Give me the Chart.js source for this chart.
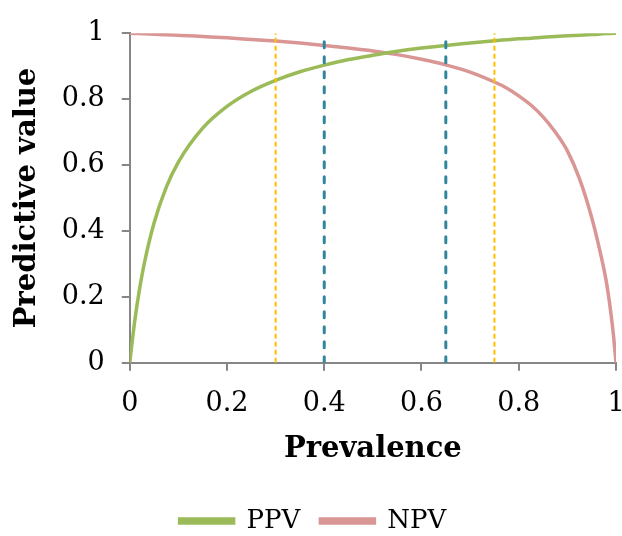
<!DOCTYPE html>
<html>
<head>
<meta charset="utf-8">
<script src="https://cdn.jsdelivr.net/npm/chart.js@4"></script>
<style>
  html, body { margin: 0; padding: 0; background: #ffffff; }
  #wrap { width: 622px; height: 536px; }
</style>
</head>
<body>
<div id="wrap"><canvas id="c" width="622" height="536"></canvas></div>
<script>
const prevalence = [0, 0.01, 0.02, 0.03, 0.05, 0.075, 0.1, 0.15, 0.2, 0.25, 0.3, 0.35, 0.4, 0.45, 0.5, 0.55, 0.6, 0.65, 0.7, 0.75, 0.775, 0.8, 0.825, 0.85, 0.875, 0.9, 0.925, 0.95, 0.965, 0.98, 0.99, 0.995, 1];
const ppv = [0, 0.124, 0.222, 0.302, 0.424, 0.532, 0.609, 0.712, 0.778, 0.824, 0.857, 0.883, 0.903, 0.920, 0.933, 0.945, 0.955, 0.963, 0.970, 0.977, 0.980, 0.983, 0.985, 0.988, 0.990, 0.992, 0.994, 0.996, 0.997, 0.999, 0.999, 1, 1];
const npv = [1, 0.999, 0.999, 0.998, 0.997, 0.995, 0.994, 0.990, 0.986, 0.981, 0.976, 0.970, 0.963, 0.955, 0.946, 0.935, 0.921, 0.904, 0.882, 0.852, 0.834, 0.810, 0.782, 0.746, 0.700, 0.643, 0.558, 0.441, 0.352, 0.247, 0.145, 0.080, 0];
const orangeMarkers = [0.3, 0.75];
const tealMarkers = [0.4, 0.65];
const xTicks = [0, 0.2, 0.4, 0.6, 0.8, 1];
const yTicks = [0, 0.2, 0.4, 0.6, 0.8, 1];

const FONT = "'DejaVu Serif', 'Liberation Serif', serif";
const AXIS = '#868686';

function pts(xs, ys) { return xs.map((x, i) => ({ x: x, y: ys[i] })); }
function vline(x, color, width, dash, cap) {
  return {
    label: '_marker',
    data: [{ x: x, y: 0 }, { x: x, y: 1 }],
    borderColor: color,
    backgroundColor: color,
    borderWidth: width,
    borderDash: dash,
    borderCapStyle: cap,
    pointRadius: 0,
    fill: false,
    tension: 0
  };
}

const datasets = [];
orangeMarkers.forEach(m => datasets.push(vline(m, '#FFC000', 2, [5, 3], 'butt')));
tealMarkers.forEach(m => datasets.push(vline(m, '#31859C', 3, [6, 9], 'round')));
datasets.push({
  label: 'PPV', data: pts(prevalence, ppv),
  borderColor: '#9BBB59', backgroundColor: '#9BBB59',
  borderWidth: 3.5, pointRadius: 0, fill: false, cubicInterpolationMode: 'monotone'
});
datasets.push({
  label: 'NPV', data: pts(prevalence, npv),
  borderColor: '#D99694', backgroundColor: '#D99694',
  borderWidth: 3.5, pointRadius: 0, fill: false, cubicInterpolationMode: 'monotone'
});

const fmt = (v) => String(v);

new Chart(document.getElementById('c'), {
  type: 'line',
  data: { datasets: datasets },
  options: {
    responsive: false,
    animation: false,
    layout: { padding: { left: 10, right: 6, top: 2, bottom: -8 } },
    plugins: {
      tooltip: { enabled: false },
      legend: {
        position: 'bottom',
        labels: {
          filter: (item) => item.text !== '_marker',
          font: { family: FONT, size: 26 },
          color: '#000',
          boxWidth: 54,
          boxHeight: 4,
          padding: 20
        }
      }
    },
    scales: {
      x: {
        type: 'linear', min: 0, max: 1,
        afterBuildTicks: (axis) => { axis.ticks = xTicks.map(v => ({ value: v })); },
        afterFit: (axis) => { axis.paddingRight = 0; axis.paddingLeft = 0; },
        ticks: { font: { family: FONT, size: 27 }, color: '#000', padding: 17, maxRotation: 0, callback: fmt },
        grid: { drawOnChartArea: false, drawTicks: true, tickLength: 8, color: AXIS, lineWidth: 2 },
        border: { color: AXIS, width: 2 },
        title: { display: true, text: 'Prevalence', font: { family: FONT, size: 29, weight: 'bold' }, color: '#000', padding: { top: -5, bottom: 21 } }
      },
      y: {
        type: 'linear', min: 0, max: 1,
        afterBuildTicks: (axis) => { axis.ticks = yTicks.map(v => ({ value: v })); },
        ticks: { font: { family: FONT, size: 27 }, color: '#000', padding: 17, callback: fmt },
        grid: { drawOnChartArea: false, drawTicks: true, tickLength: 8, color: AXIS, lineWidth: 2 },
        border: { color: AXIS, width: 2 },
        title: { display: true, text: 'Predictive value', font: { family: FONT, size: 29, weight: 'bold' }, color: '#000', padding: { top: 0, bottom: 0 } }
      }
    }
  }
});
</script>
</body>
</html>
